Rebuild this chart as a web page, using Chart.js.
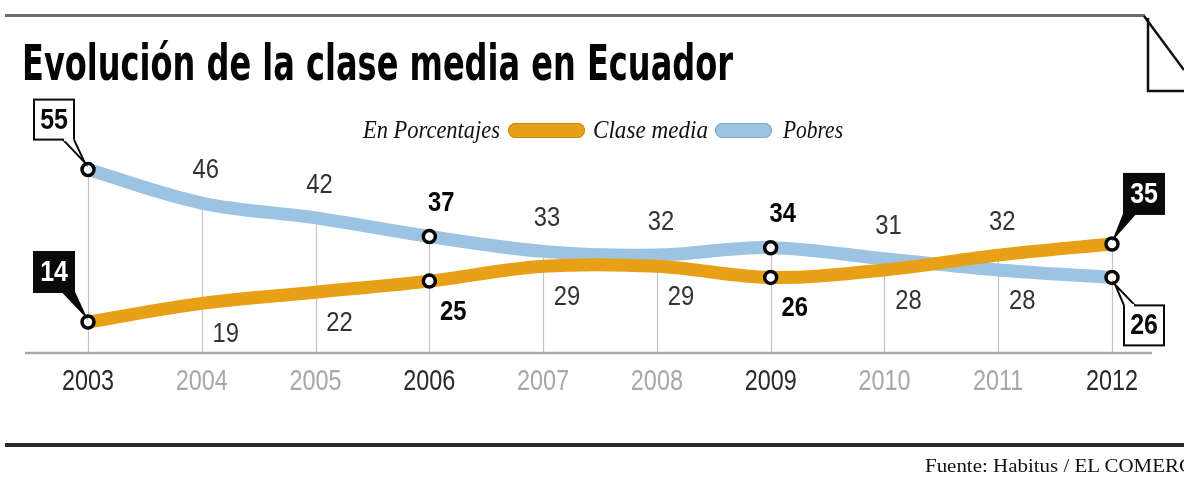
<!DOCTYPE html>
<html><head><meta charset="utf-8">
<script src="https://cdn.jsdelivr.net/npm/chart.js@4/dist/chart.umd.min.js"></script>
<style>
html,body{margin:0;padding:0;background:#fff;width:1184px;height:487px;overflow:hidden;}
#stage{position:relative;width:1184px;height:487px;overflow:hidden;}
canvas{position:absolute;left:0;top:0;}
.t{position:absolute;white-space:nowrap;transform-origin:0 50%;}
.line{position:absolute;}
.pill{position:absolute;border-radius:9px;}
</style></head><body>
<div id="stage">
<canvas id="c" width="1184" height="487"></canvas>
<div class="line" style="left:5px;top:14px;width:1140px;height:3px;background:#6d6d6d"></div>
<svg style="position:absolute;left:1130px;top:0" width="54" height="100">
 <polyline points="14,16 54,70" fill="none" stroke="#111" stroke-width="2.5"/>
 <polyline points="18,18 18,91 54,91" fill="none" stroke="#111" stroke-width="2.5"/>
</svg>
<div class="line" style="left:5px;top:443px;width:1184px;height:4px;background:#2b2b2b"></div>
<div class="t" id="title" style="font-family:'DejaVu Sans Condensed','DejaVu Sans',sans-serif;font-weight:bold;font-size:49px;line-height:48px;color:#050505;left:22px;top:40px;">Evolución de la clase media en Ecuador</div>
<div class="t" id="lg0" style="font-family:'Liberation Serif',serif;font-style:italic;font-size:25px;line-height:26px;color:#111;left:363px;top:117px;">En Porcentajes</div>
<div class="pill" style="left:508px;top:123px;width:77px;height:15px;background:#e8a116;box-shadow:inset 0 0 0 1px #c98a0c"></div>
<div class="t" id="lg1" style="font-family:'Liberation Serif',serif;font-style:italic;font-size:25px;line-height:26px;color:#111;left:593px;top:117px;">Clase media</div>
<div class="pill" style="left:715px;top:123px;width:57px;height:15px;background:#9dc3e3;box-shadow:inset 0 0 0 1px #7fa9cc"></div>
<div class="t" id="lg2" style="font-family:'Liberation Serif',serif;font-style:italic;font-size:25px;line-height:26px;color:#111;left:783px;top:117px;">Pobres</div>
<div class="t" id="src" style="font-family:'Liberation Serif',serif;font-size:19px;line-height:20px;color:#111;left:925px;top:456px;">Fuente: Habitus / EL COMERCIO</div>
</div>
<script>
const years = ['2003','2004','2005','2006','2007','2008','2009','2010','2011','2012'];
const claseMedia = [14, 19, 22, 25, 29, 29, 26, 28, 32, 35];
const pobres = [55, 46, 42, 37, 33, 32, 34, 31, 28, 26];
const highlighted = [0, 3, 6, 9];

function fit(id, w){
  const el=document.getElementById(id);
  const nat=el.getBoundingClientRect().width;
  el.style.transform='scaleX('+(w/nat)+')';
}
fit('title',711); fit('lg0',137); fit('lg1',115); fit('lg2',60); fit('src',290);

const NUM_FONT = "'Liberation Sans',Arial,sans-serif";

function narrowText(ctx, text, x, y, sx){
  ctx.save();
  ctx.translate(x,y);
  ctx.scale(sx,1);
  ctx.fillText(text,0,0);
  ctx.restore();
}

const gridPlugin = {
  id:'grid',
  beforeDatasetsDraw(chart){
    const {ctx, chartArea, scales:{x,y}} = chart;
    ctx.save();
    ctx.strokeStyle='#c4c4c4'; ctx.lineWidth=1.2;
    years.forEach((_,i)=>{
      const px=Math.round(x.getPixelForValue(i))+0.5;
      const top=y.getPixelForValue(Math.max(claseMedia[i],pobres[i]));
      ctx.beginPath(); ctx.moveTo(px,chartArea.bottom); ctx.lineTo(px,top); ctx.stroke();
    });
    ctx.strokeStyle='#a9a9a9'; ctx.lineWidth=2.5;
    ctx.beginPath(); ctx.moveTo(25,chartArea.bottom); ctx.lineTo(1152,chartArea.bottom); ctx.stroke();
    // year tick labels from the x scale
    ctx.textAlign='center'; ctx.textBaseline='middle';
    ctx.font="30px "+NUM_FONT;
    years.forEach((lab,i)=>{
      const px=x.getPixelForValue(i);
      ctx.fillStyle=highlighted.includes(i)?'#2a2a2a':'#a8a8a8';
      narrowText(ctx, lab, px, chartArea.bottom+29, 0.78);
    });
    ctx.restore();
  }
};

function box(ctx, bx, by, px, py, text, dark){
  const h=20;
  const sx=Math.sign(px-bx), sy=Math.sign(py-by);
  const cx=bx+sx*h, cy=by+sy*h;
  const ax=cx-sx*11, ay=cy;
  const len=Math.hypot(px-cx,py-cy);
  const tx=px-(px-cx)/len*8, ty=py-(py-cy)/len*8;
  ctx.save();
  ctx.fillStyle=dark?'#0a0a0a':'#ffffff';
  ctx.strokeStyle='#0a0a0a'; ctx.lineWidth=2;
  ctx.fillRect(bx-h,by-h,2*h,2*h);
  ctx.strokeRect(bx-h,by-h,2*h,2*h);
  ctx.beginPath(); ctx.moveTo(ax,ay); ctx.lineTo(tx,ty); ctx.lineTo(cx,cy); ctx.closePath(); ctx.fill();
  ctx.beginPath(); ctx.moveTo(ax,ay); ctx.lineTo(tx,ty); ctx.lineTo(cx,cy); ctx.stroke();
  if(!dark){ ctx.fillStyle='#fff'; ctx.fillRect(Math.min(ax,cx)+1, ay-1.5, Math.abs(cx-ax)-2, 3); }
  ctx.fillStyle=dark?'#fff':'#0a0a0a';
  ctx.font="bold 29px "+NUM_FONT;
  ctx.textAlign='center'; ctx.textBaseline='middle';
  narrowText(ctx, text, bx, by+1, 0.86);
  ctx.restore();
}

const labelPlugin = {
  id:'labels',
  afterDatasetsDraw(chart){
    const {ctx} = chart;
    const series=[claseMedia,pobres];
    years.forEach((_,i)=>{
      for(let d=0; d<2; d++){
        const v=series[d][i], other=series[1-d][i];
        const el=chart.getDatasetMeta(d).data[i];
        const px=el.x, py=el.y;
        const above = v>other;
        if(i===0 || i===9){
          const bx = px + (i===0?-34:32);
          const by = py + ((i===0 || above)?-50:48);
          box(ctx,bx,by,px,py,String(v), d===0);
          continue;
        }
        const hl = highlighted.includes(i);
        ctx.save();
        ctx.font=(hl?'bold ':'')+"28px "+NUM_FONT;
        ctx.fillStyle=hl?'#050505':'#333';
        ctx.textAlign='center'; ctx.textBaseline='middle';
        if(above) narrowText(ctx, String(v), px+(hl?12:4), py-33, 0.85);
        else narrowText(ctx, String(v), px+24, py+31, 0.85);
        ctx.restore();
      }
    });
  }
};

const pointR = (c)=> highlighted.includes(c.dataIndex)?6:0;

new Chart(document.getElementById('c'),{
  type:'line',
  data:{
    labels: years,
    datasets:[
      {label:'Clase media', data:claseMedia, borderColor:'#e8a116', borderWidth:13, tension:0.35,
       pointRadius:pointR, pointBackgroundColor:'#fff', pointBorderColor:'#050505', pointBorderWidth:3.5, borderCapStyle:'round'},
      {label:'Pobres', data:pobres, borderColor:'#9dc3e3', borderWidth:13, tension:0.35,
       pointRadius:pointR, pointBackgroundColor:'#fff', pointBorderColor:'#050505', pointBorderWidth:3.5, borderCapStyle:'round'}
    ]
  },
  options:{
    responsive:false, animation:false, devicePixelRatio:1,
    layout:{padding:{left:88,right:72,top:151,bottom:94}},
    plugins:{legend:{display:false}, tooltip:{enabled:false}},
    scales:{
      x:{
        offset:false,
        grid:{display:false, drawTicks:false},
        border:{display:false},
        afterFit:(s)=>{s.height=40;},
        ticks:{display:false}
      },
      y:{display:false, min:5.66, max:60}
    }
  },
  plugins:[gridPlugin,labelPlugin]
});
</script>
</body></html>
